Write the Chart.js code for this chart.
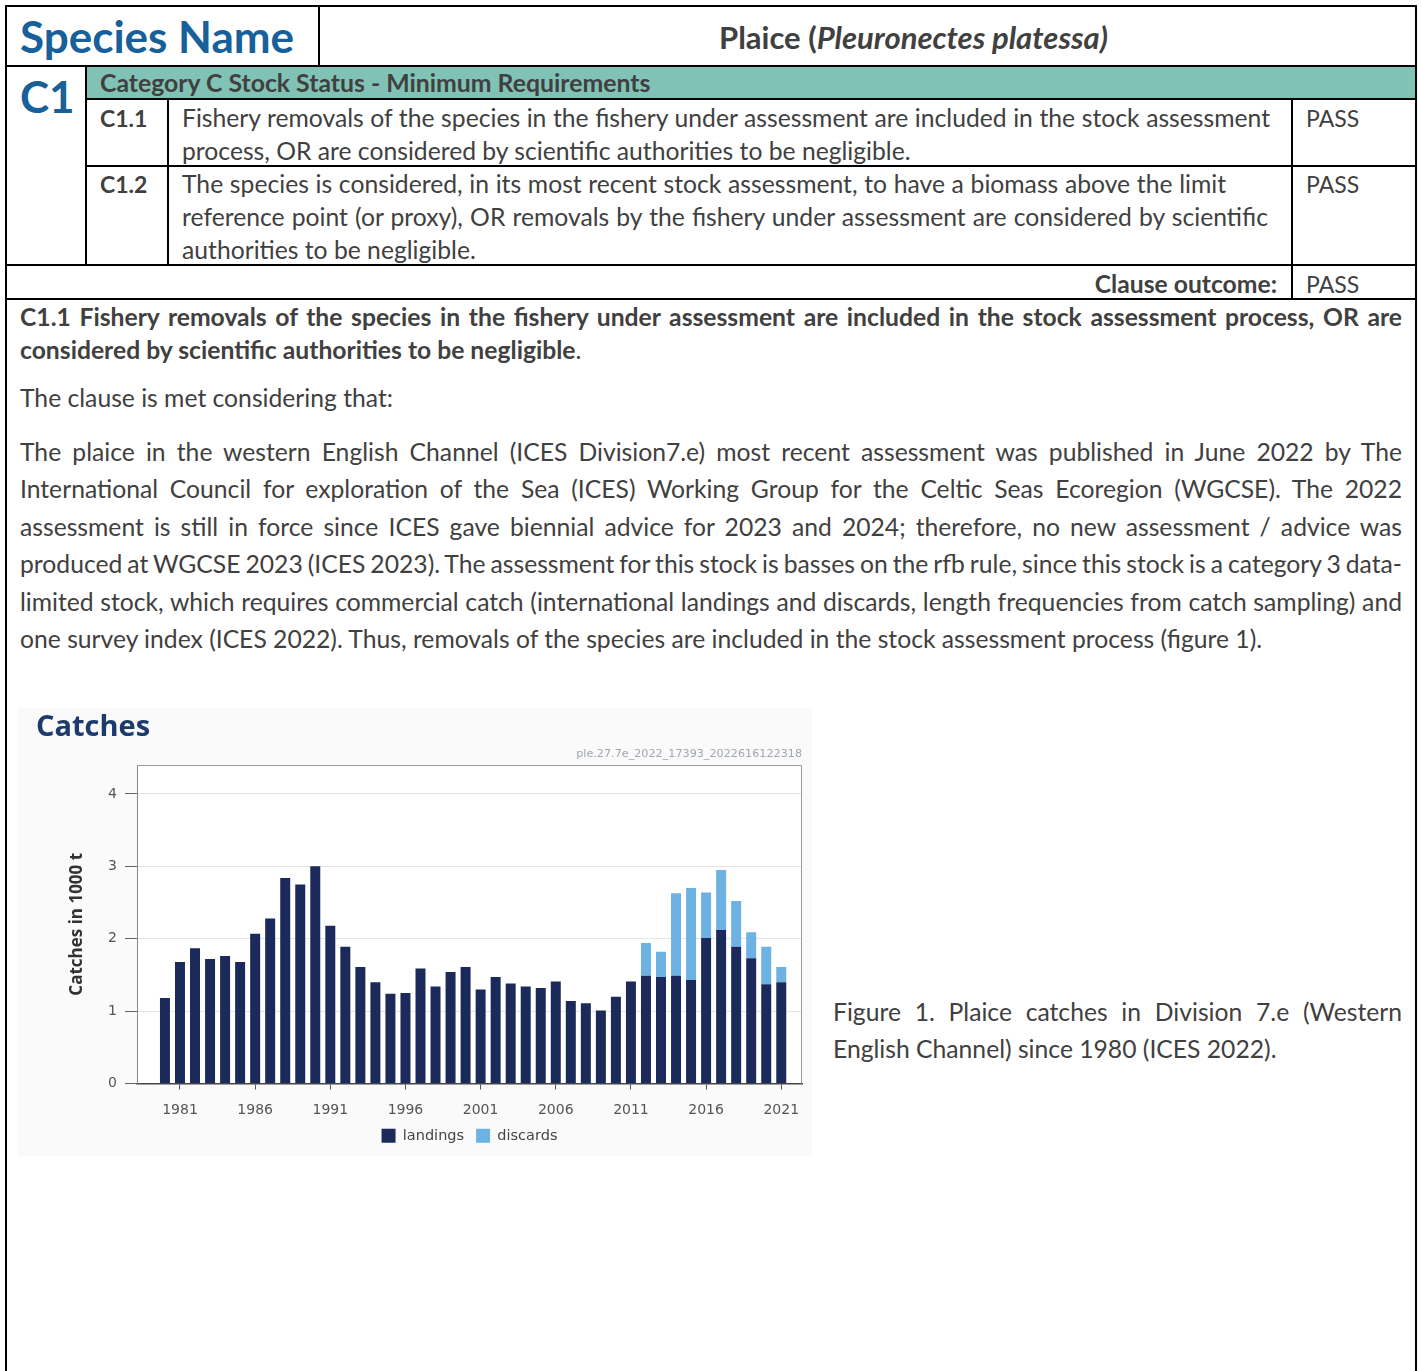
<!DOCTYPE html>
<html><head><meta charset="utf-8">
<script src="https://cdn.jsdelivr.net/npm/chart.js@4.4.0/dist/chart.umd.min.js"></script>
<style>
html,body{margin:0;padding:0;background:#fff;}
body{width:1421px;height:1371px;position:relative;overflow:hidden;font-family:Lato,"Noto Sans",sans-serif;color:#404040;}
.ln{position:absolute;background:#000;}
.t{position:absolute;white-space:nowrap;line-height:30px;height:30px;font-size:24.7px;}
.b{font-weight:700;}
.blue{color:#17609a;font-weight:700;font-size:44px;line-height:50px;height:50px;}
#chartbox{position:absolute;left:18px;top:708px;width:794px;height:448px;}
</style></head>
<body>
<!-- table lines -->
<div class="ln" style="left:5px;top:5px;width:1412px;height:2px"></div>
<div class="ln" style="left:5px;top:5px;width:2px;height:1366px"></div>
<div class="ln" style="left:1415px;top:5px;width:2px;height:1366px"></div>
<div class="ln" style="left:5px;top:65px;width:1412px;height:2px"></div>
<div class="ln" style="left:318px;top:5px;width:2px;height:62px"></div>
<div style="position:absolute;left:86px;top:67px;width:1329px;height:32px;background:#80c3b6"></div>
<div class="ln" style="left:85px;top:67px;width:2px;height:199px"></div>
<div class="ln" style="left:85px;top:98px;width:1332px;height:2px"></div>
<div class="ln" style="left:85px;top:165px;width:1332px;height:2px"></div>
<div class="ln" style="left:167px;top:99px;width:2px;height:167px"></div>
<div class="ln" style="left:1291px;top:99px;width:2px;height:201px"></div>
<div class="ln" style="left:5px;top:264px;width:1412px;height:2px"></div>
<div class="ln" style="left:5px;top:298px;width:1412px;height:2px"></div>

<!-- header -->
<div class="t blue" style="left:20px;top:11px">Species Name</div>
<div class="t b" style="left:719px;top:21px;font-size:31px;line-height:32px;height:32px">Plaice (<i>Pleuronectes platessa)</i></div>
<div class="t blue" style="left:20px;top:71px">C1</div>
<div class="t b" style="left:100px;top:68px;font-size:24.8px">Category C Stock Status - Minimum Requirements</div>

<div class="t b" style="left:100px;top:103px;font-size:23px">C1.1</div>
<div class="t j" data-w="1088" style="left:182px;top:103px">Fishery removals of the species in the fishery under assessment are included in the stock assessment</div>
<div class="t" style="left:182px;top:136px">process, OR are considered by scientific authorities to be negligible.</div>
<div class="t" style="left:1306px;top:103px;font-size:23px">PASS</div>

<div class="t b" style="left:100px;top:169px;font-size:23px">C1.2</div>
<div class="t j" data-w="1044" style="left:182px;top:169px">The species is considered, in its most recent stock assessment, to have a biomass above the limit</div>
<div class="t j" data-w="1086" style="left:182px;top:202px">reference point (or proxy), OR removals by the fishery under assessment are considered by scientific</div>
<div class="t" style="left:182px;top:235px">authorities to be negligible.</div>
<div class="t" style="left:1306px;top:169px;font-size:23px">PASS</div>

<div class="t b" style="right:144px;top:269px">Clause outcome:</div>
<div class="t" style="left:1306px;top:269px;font-size:23px">PASS</div>

<!-- body -->
<div class="t j b" data-w="1382" style="left:20px;top:302px">C1.1 Fishery removals of the species in the fishery under assessment are included in the stock assessment process, OR are</div>
<div class="t" style="left:20px;top:335px"><span class="b">considered by scientific authorities to be negligible</span>.</div>
<div class="t" style="left:20px;top:383px">The clause is met considering that:</div>

<div class="t j" data-w="1382" style="left:20px;top:437px">The plaice in the western English Channel (ICES Division7.e) most recent assessment was published in June 2022 by The</div>
<div class="t j" data-w="1382" style="left:20px;top:474px">International Council for exploration of the Sea (ICES) Working Group for the Celtic Seas Ecoregion (WGCSE). The 2022</div>
<div class="t j" data-w="1382" style="left:20px;top:512px">assessment is still in force since ICES gave biennial advice for 2023 and 2024; therefore, no new assessment / advice was</div>
<div class="t j" data-w="1382" style="left:20px;top:549px">produced at WGCSE 2023 (ICES 2023). The assessment for this stock is basses on the rfb rule, since this stock is a category 3 data-</div>
<div class="t j" data-w="1382" style="left:20px;top:587px">limited stock, which requires commercial catch (international landings and discards, length frequencies from catch sampling) and</div>
<div class="t" style="left:20px;top:624px">one survey index (ICES 2022). Thus, removals of the species are included in the stock assessment process (figure 1).</div>

<div id="chartbox"><canvas id="c" width="794" height="448"></canvas></div>

<div class="t j" data-w="569" style="left:833px;top:997px">Figure 1. Plaice catches in Division 7.e (Western</div>
<div class="t" style="left:833px;top:1034px">English Channel) since 1980 (ICES 2022).</div>

<script>
// justify single lines to target widths
document.querySelectorAll('.j').forEach(el => {
  const target = parseFloat(el.dataset.w);
  const r = document.createRange(); r.selectNodeContents(el);
  const natural = r.getBoundingClientRect().width;
  const spaces = (el.textContent.match(/ /g) || []).length;
  if (spaces) el.style.wordSpacing = ((target - natural) / spaces) + 'px';
});

const years = [1980,1981,1982,1983,1984,1985,1986,1987,1988,1989,1990,1991,1992,1993,1994,1995,1996,1997,1998,1999,2000,2001,2002,2003,2004,2005,2006,2007,2008,2009,2010,2011,2012,2013,2014,2015,2016,2017,2018,2019,2020,2021];
const landings = [1.18,1.68,1.87,1.72,1.76,1.68,2.07,2.28,2.84,2.75,3.00,2.18,1.89,1.61,1.40,1.24,1.25,1.59,1.34,1.54,1.61,1.30,1.47,1.38,1.34,1.32,1.41,1.14,1.11,1.01,1.20,1.41,1.49,1.47,1.49,1.43,2.01,2.12,1.89,1.73,1.37,1.40];
const discards = [0,0,0,0,0,0,0,0,0,0,0,0,0,0,0,0,0,0,0,0,0,0,0,0,0,0,0,0,0,0,0,0,0.45,0.35,1.14,1.27,0.63,0.83,0.63,0.36,0.52,0.21];
const yTicks = [0,1,2,3,4];
const xTicks = [1981,1986,1991,1996,2001,2006,2011,2016,2021];
const seriesNames = ['landings','discards'];

const bgPlugin = {id:'bg', beforeDraw(c){const {ctx, chartArea:a}=c; ctx.save(); ctx.fillStyle='#fafafa'; ctx.fillRect(0,0,c.width,c.height); ctx.fillStyle='#ffffff'; ctx.fillRect(a.left,a.top,a.right-a.left,a.bottom-a.top); ctx.restore();}};
const framePlugin = {id:'frame', beforeDatasetsDraw(c){const {ctx, chartArea:a}=c; ctx.save(); ctx.strokeStyle='#9a9a9a'; ctx.lineWidth=1; ctx.beginPath(); ctx.moveTo(a.left, a.top+0.5); ctx.lineTo(a.right-0.5, a.top+0.5); ctx.lineTo(a.right-0.5, a.bottom); ctx.stroke(); ctx.restore();}};

const tickFont = {family:'DejaVu Sans', size:14};
new Chart(document.getElementById('c'), {
  type:'bar',
  data:{
    datasets:[
      {label:seriesNames[0], data:years.map((y,i)=>({x:y,y:landings[i]})), backgroundColor:'#1b2a5a', barPercentage:0.83, categoryPercentage:0.8},
      {label:seriesNames[1], data:years.map((y,i)=>({x:y,y:discards[i]})), backgroundColor:'#6cb2e2', barPercentage:0.83, categoryPercentage:0.8}
    ]
  },
  options:{
    responsive:false, animation:false, devicePixelRatio:1,
    layout:{padding:{left:18,right:10,top:0,bottom:3}},
    plugins:{
      title:{display:true,text:'Catches',align:'start',color:'#1c3a6b',font:{family:'Open Sans',size:29,weight:'bold'},padding:{top:2,bottom:2.6}},
      subtitle:{display:true,text:'ple.27.7e_2022_17393_2022616122318',align:'end',color:'#a0a7b0',font:{family:'DejaVu Sans',size:11.2},padding:{top:0,bottom:4.2}},
      legend:{position:'bottom',fullSize:false,labels:{boxWidth:14,boxHeight:14,padding:12,color:'#444',font:{family:'DejaVu Sans',size:14.5}}},
      tooltip:{enabled:false}
    },
    scales:{
      x:{type:'linear',stacked:true,min:1978.14,max:2022.38,offset:false,
        afterBuildTicks:s=>{s.ticks=xTicks.map(v=>({value:v}));},
        afterFit:s=>{s.height=33;},
        grid:{display:true,drawOnChartArea:false,drawTicks:true,tickLength:6,tickColor:'#555',offset:false},
        border:{display:true,color:'#444',width:1.5},
        ticks:{padding:12,color:'#555',font:tickFont,callback:v=>String(v),maxRotation:0,autoSkip:false}
      },
      y:{stacked:true,min:0,max:4.4,
        afterBuildTicks:s=>{s.ticks=yTicks.map(v=>({value:v}));},
        afterFit:s=>{s.width=101;},
        grid:{color:'#e4e4e4',tickColor:'#666',tickLength:12},
        border:{color:'#888',width:1},
        ticks:{padding:8,color:'#555',font:tickFont,callback:v=>String(v)},
        title:{display:true,text:'Catches in 1000 t',color:'#333',font:{family:'Open Sans',size:17,weight:'bold'},padding:{top:31,bottom:0}}
      }
    }
  },
  plugins:[bgPlugin,framePlugin]
});
</script>
</body></html>
